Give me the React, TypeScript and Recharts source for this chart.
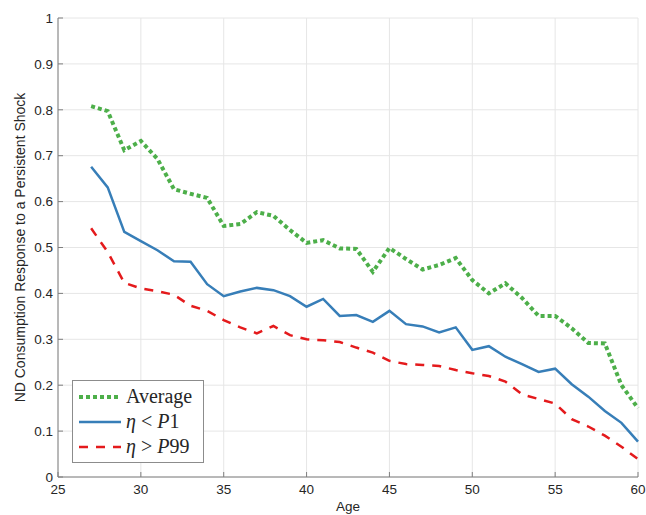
import React from "react";
import { LineChart, Line, XAxis, YAxis, CartesianGrid } from "recharts";

const ages = [27, 28, 29, 30, 31, 32, 33, 34, 35, 36, 37, 38, 39, 40, 41, 42, 43, 44, 45, 46, 47, 48, 49, 50, 51, 52, 53, 54, 55, 56, 57, 58, 59, 60];

const average = [0.808, 0.797, 0.712, 0.732, 0.693, 0.627, 0.617, 0.608, 0.547, 0.551, 0.577, 0.569, 0.538, 0.51, 0.516, 0.498, 0.497, 0.447, 0.499, 0.475, 0.452, 0.462, 0.477, 0.429, 0.4, 0.422, 0.39, 0.351, 0.351, 0.324, 0.292, 0.291, 0.2, 0.15];

const belowP1 = [0.676, 0.631, 0.534, 0.514, 0.494, 0.47, 0.469, 0.42, 0.394, 0.404, 0.412, 0.407, 0.394, 0.371, 0.388, 0.351, 0.353, 0.338, 0.362, 0.333, 0.328, 0.315, 0.326, 0.277, 0.285, 0.262, 0.246, 0.229, 0.236, 0.202, 0.175, 0.144, 0.118, 0.077];

const aboveP99 = [0.542, 0.49, 0.423, 0.411, 0.405, 0.397, 0.373, 0.362, 0.342, 0.326, 0.313, 0.329, 0.309, 0.3, 0.298, 0.294, 0.282, 0.271, 0.253, 0.246, 0.244, 0.242, 0.233, 0.226, 0.22, 0.208, 0.18, 0.17, 0.16, 0.126, 0.11, 0.09, 0.066, 0.039];

const xTicks = [25, 30, 35, 40, 45, 50, 55, 60];
const yTicks = [0, 0.1, 0.2, 0.3, 0.4, 0.5, 0.6, 0.7, 0.8, 0.9, 1];

const data = ages.map((age, i) => ({
  age,
  average: average[i],
  belowP1: belowP1[i],
  aboveP99: aboveP99[i],
}));

const GREEN = "#4daf4a";
const BLUE = "#377eb8";
const RED = "#e41a1c";
const AXIS = "#7f7f7f";
const TEXT = "#262626";

const legendItems = [
  { key: "average", color: GREEN, dash: "4 3", width: 4, label: <span>Average</span> },
  {
    key: "belowP1",
    color: BLUE,
    dash: undefined,
    width: 2.5,
    label: (
      <span>
        <i>η</i> &lt; <i>P</i>1
      </span>
    ),
  },
  {
    key: "aboveP99",
    color: RED,
    dash: "9 8",
    width: 2.5,
    label: (
      <span>
        <i>η</i> &gt; <i>P</i>99
      </span>
    ),
  },
];

// MATLAB-style boxed legend, placed over the lower-left of the plot
function MatlabLegend() {
  return (
    <div
      style={{
        position: "absolute",
        left: 72,
        top: 380,
        width: 132,
        height: 83,
        boxSizing: "border-box",
        background: "#fff",
        border: "1px solid #8c8c8c",
        padding: "3px 0 0 5px",
        fontFamily: "'Liberation Serif', 'DejaVu Serif', serif",
        fontSize: 20,
        lineHeight: "25px",
        color: TEXT,
      }}
    >
      {legendItems.map((it) => (
        <div key={it.key} style={{ display: "flex", alignItems: "center", height: 25 }}>
          <svg width={44} height={10} style={{ marginRight: 4 }}>
            <line
              x1={1}
              y1={5}
              x2={43}
              y2={5}
              stroke={it.color}
              strokeWidth={it.width}
              strokeDasharray={it.dash}
            />
          </svg>
          {it.label}
        </div>
      ))}
    </div>
  );
}

export default function App() {
  return (
    <div style={{ position: "absolute", left: 0, top: 0, width: 646, height: 515, background: "#fff" }}>
      <LineChart
        width={646}
        height={515}
        data={data}
        margin={{ top: 18, right: 8, bottom: 0, left: 0 }}
        style={{ fontFamily: "'Liberation Sans', Arial, sans-serif" }}
      >
        <CartesianGrid stroke="#e6e6e6" strokeWidth={1} />
        <XAxis
          dataKey="age"
          type="number"
          domain={[25, 60]}
          ticks={xTicks}
          height={38}
          stroke={AXIS}
          tick={{ fill: TEXT, fontSize: 13.5 }}
          tickSize={-5}
          tickMargin={12}
          label={{ value: "Age", position: "insideBottom", offset: 4, fill: TEXT, fontSize: 13.5 }}
        />
        <YAxis
          type="number"
          domain={[0, 1]}
          ticks={yTicks}
          width={58}
          stroke={AXIS}
          tick={{ fill: TEXT, fontSize: 13.5 }}
          tickSize={-5}
          tickMargin={10}
          tickFormatter={(v: number) => String(Math.round(v * 10) / 10)}
          label={{
            value: "ND Consumption Response to a Persistent Shock",
            angle: -90,
            position: "insideLeft",
            offset: 20,
            style: { textAnchor: "middle", fill: TEXT, fontSize: 14 },
          }}
        />
        <Line
          dataKey="average"
          stroke={GREEN}
          strokeWidth={4}
          strokeDasharray="4 3"
          dot={false}
          isAnimationActive={false}
        />
        <Line dataKey="belowP1" stroke={BLUE} strokeWidth={2.5} dot={false} isAnimationActive={false} />
        <Line
          dataKey="aboveP99"
          stroke={RED}
          strokeWidth={2.5}
          strokeDasharray="9 8"
          dot={false}
          isAnimationActive={false}
        />
      </LineChart>
      <MatlabLegend />
    </div>
  );
}
